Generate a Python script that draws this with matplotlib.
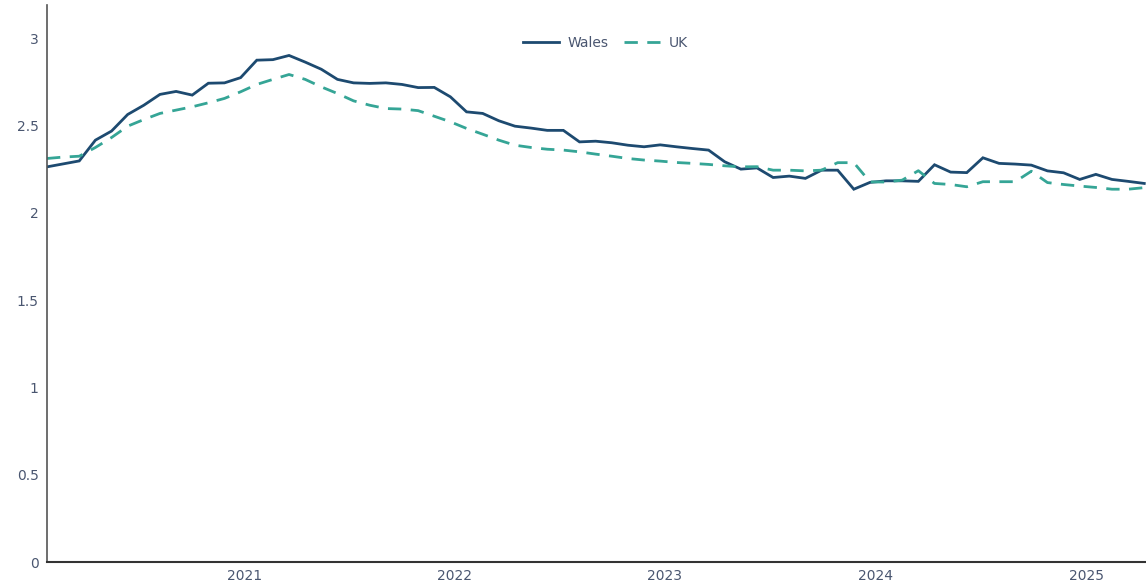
import pandas as pd
import numpy as np
import matplotlib
matplotlib.use("Agg")
import matplotlib.pyplot as plt
import matplotlib.dates as mdates

# ---- data (4-weekly periods) ----
start_date = "2020-01-25"
n_periods = 69
dates = pd.date_range(start_date, periods=n_periods, freq="28D")

wales = [2.263, 2.280, 2.297, 2.416, 2.468, 2.563, 2.616, 2.678, 2.695, 2.674,
         2.742, 2.744, 2.774, 2.874, 2.877, 2.901, 2.863, 2.822, 2.764, 2.744,
         2.741, 2.744, 2.735, 2.717, 2.718, 2.664, 2.578, 2.569, 2.527, 2.496,
         2.485, 2.472, 2.472, 2.406, 2.410, 2.401, 2.387, 2.378, 2.389, 2.378,
         2.368, 2.359, 2.292, 2.250, 2.257, 2.202, 2.210, 2.197, 2.244, 2.244,
         2.135, 2.174, 2.183, 2.183, 2.180, 2.275, 2.233, 2.230, 2.315, 2.283,
         2.279, 2.273, 2.240, 2.229, 2.191, 2.220, 2.191, 2.180, 2.168]

uk = [2.311, 2.319, 2.324, 2.374, 2.431, 2.496, 2.534, 2.569, 2.588, 2.607,
      2.630, 2.655, 2.693, 2.735, 2.764, 2.792, 2.764, 2.721, 2.683, 2.641,
      2.616, 2.597, 2.594, 2.585, 2.553, 2.521, 2.483, 2.450, 2.416, 2.387,
      2.374, 2.364, 2.359, 2.349, 2.336, 2.324, 2.311, 2.302, 2.296, 2.288,
      2.283, 2.277, 2.269, 2.263, 2.264, 2.244, 2.244, 2.240, 2.244, 2.287,
      2.287, 2.177, 2.176, 2.187, 2.241, 2.168, 2.162, 2.149, 2.178, 2.178,
      2.178, 2.238, 2.173, 2.162, 2.153, 2.145, 2.135, 2.135, 2.144]

series_names = ["Wales", "UK"]
y_ticks = [0, 0.5, 1, 1.5, 2, 2.5, 3]
y_tick_labels = ["0", "0.5", "1", "1.5", "2", "2.5", "3"]

# ---- style ----
text_col = "#4a5670"
wales_col = "#1d4a70"
uk_col = "#35a596"

plt.rcParams["font.family"] = ["DejaVu Sans"]
plt.rcParams["font.size"] = 10

fig = plt.figure(figsize=(11.46, 5.86), dpi=100)
ax = fig.add_axes([47 / 1146, 24 / 586, 1 - 47 / 1146, (562 - 5) / 586])

ax.plot(dates, wales, color=wales_col, lw=2.0, label=series_names[0],
        solid_joinstyle="miter")
ax.plot(dates, uk, color=uk_col, lw=2.0, dashes=(4.8, 3.4), label=series_names[1])

ax.set_xlim(dates[0], dates[-1] + pd.Timedelta(days=3))
ax.set_ylim(0, 3.19)
ax.set_yticks(y_ticks)
ax.set_yticklabels(y_tick_labels)

ax.xaxis.set_major_locator(mdates.YearLocator())
ax.xaxis.set_major_formatter(mdates.DateFormatter("%Y"))

ax.tick_params(axis="both", length=0, colors=text_col, labelsize=10)
ax.tick_params(axis="y", pad=6)
ax.tick_params(axis="x", pad=5)

for side in ["top", "right"]:
    ax.spines[side].set_visible(False)
ax.spines["left"].set_color("#555555")
ax.spines["left"].set_linewidth(1.2)
ax.spines["bottom"].set_color("#333333")
ax.spines["bottom"].set_linewidth(1.5)

leg = ax.legend(loc="center", bbox_to_anchor=(0.508, 0.932), ncol=2, frameon=False,
                handlelength=2.6, columnspacing=1.1, handletextpad=0.6, fontsize=10)
for t in leg.get_texts():
    t.set_color(text_col)

fig.savefig("out.png", dpi=100)
